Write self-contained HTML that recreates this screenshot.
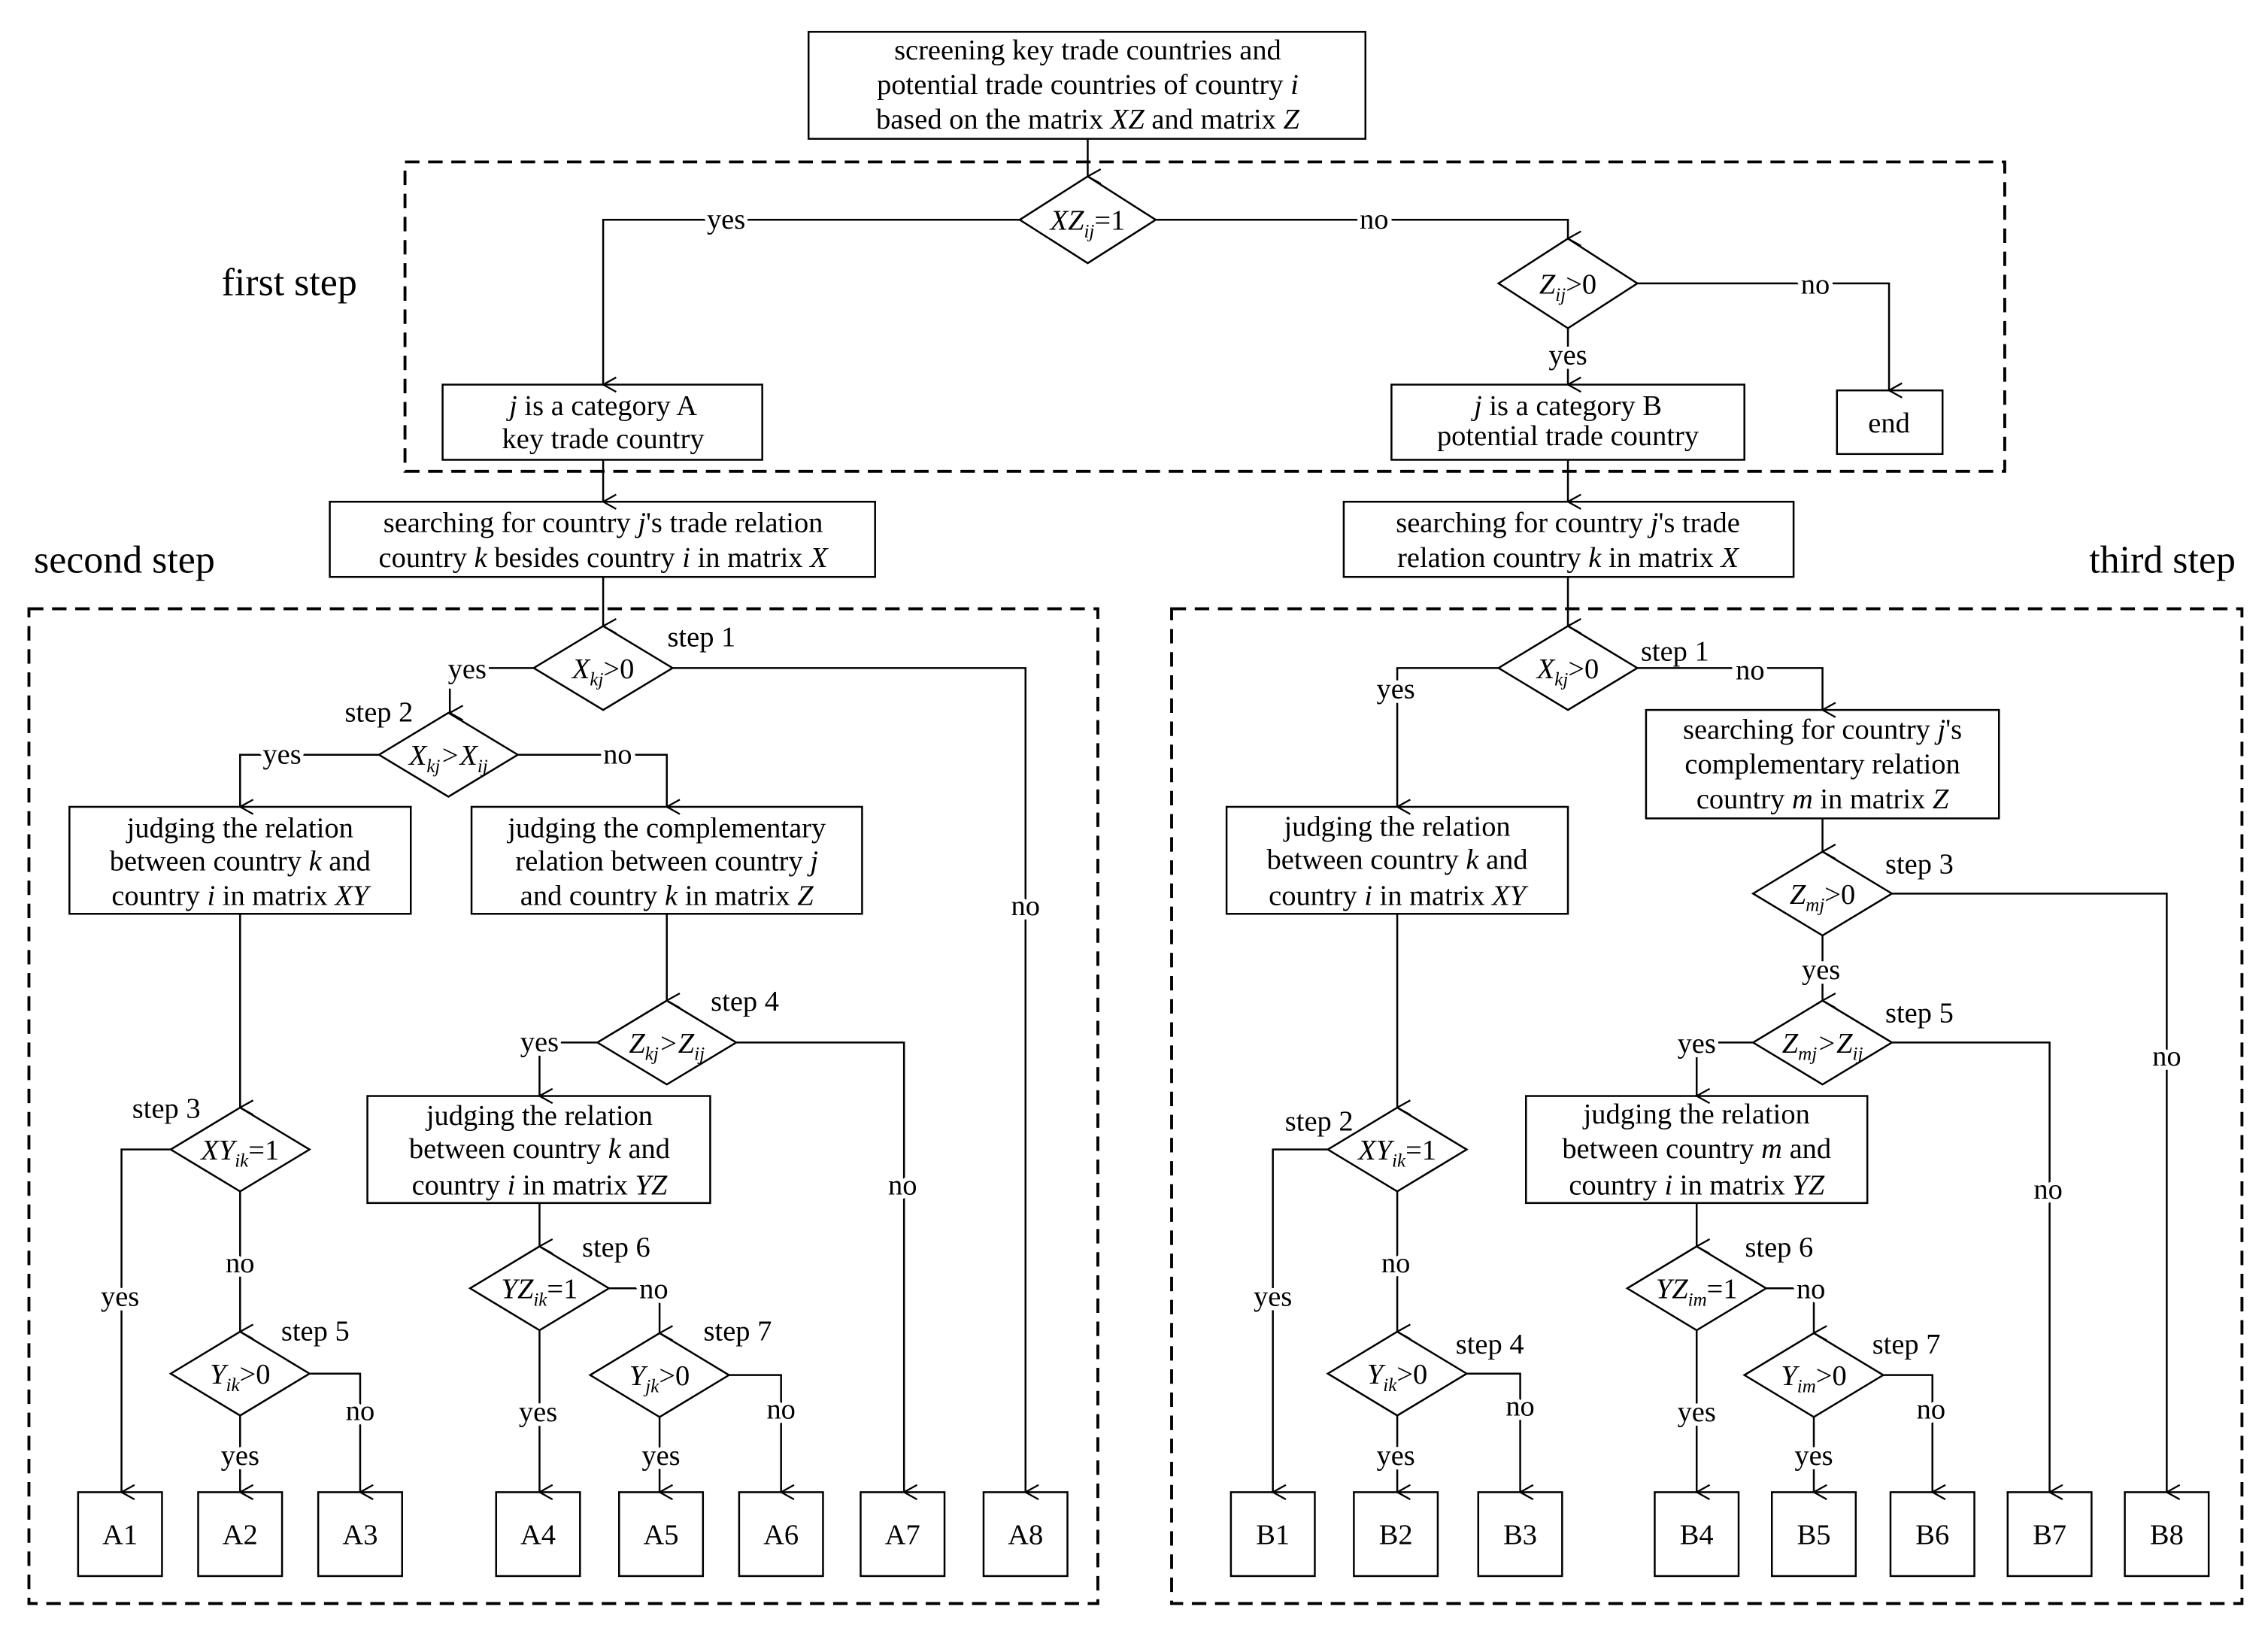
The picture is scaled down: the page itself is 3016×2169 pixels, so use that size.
<!DOCTYPE html>
<html><head><meta charset="utf-8">
<style>
html,body{margin:0;padding:0;background:#fff;}
svg{display:block;}
svg text{font-family:"Liberation Serif","DejaVu Serif",serif !important;font-size:20px;fill:#000;}
.l{paint-order:stroke;stroke:#fff;stroke-width:6px;stroke-linejoin:round;}
svg text.big{font-size:27px;}
svg .s{font-size:13px;font-style:italic;}
</style></head>
<body>
<svg width="3016" height="2169" viewBox="0 0 1568 1128" preserveAspectRatio="none" xmlns="http://www.w3.org/2000/svg" font-family="Liberation Serif, serif">
<defs>
<marker id="a" markerWidth="12" markerHeight="12" refX="6" refY="11" orient="auto" markerUnits="userSpaceOnUse" viewBox="0 0 12 12">
<path d="M1,2 L6,11 L11,2" fill="none" stroke="#000" stroke-width="1.2"/>
</marker>
</defs>
<g fill="none" stroke="#000" stroke-width="1.3">
<rect x="280" y="112" width="1106" height="214" stroke-dasharray="10,6" stroke-width="2"/>
<rect x="20" y="421" width="739" height="688" stroke-dasharray="10,6" stroke-width="2"/>
<rect x="810" y="421" width="740" height="688" stroke-dasharray="10,6" stroke-width="2"/>
<rect x="559" y="22" width="385" height="74"/>
<rect x="306" y="266" width="221" height="52"/>
<rect x="962" y="266" width="244" height="52"/>
<rect x="1270" y="270" width="73" height="44"/>
<rect x="228" y="347" width="377" height="52"/>
<rect x="929" y="347" width="311" height="52"/>
<rect x="48" y="558" width="236" height="74"/>
<rect x="326" y="558" width="270" height="74"/>
<rect x="254" y="758" width="237" height="74"/>
<rect x="1138" y="491" width="244" height="75"/>
<rect x="848" y="558" width="236" height="74"/>
<rect x="1055" y="758" width="236" height="74"/>
<rect x="54" y="1032" width="58" height="58"/><rect x="137" y="1032" width="58" height="58"/><rect x="220" y="1032" width="58" height="58"/><rect x="343" y="1032" width="58" height="58"/><rect x="428" y="1032" width="58" height="58"/><rect x="511" y="1032" width="58" height="58"/><rect x="595" y="1032" width="58" height="58"/><rect x="680" y="1032" width="58" height="58"/>
<rect x="851" y="1032" width="58" height="58"/><rect x="936" y="1032" width="58" height="58"/><rect x="1022" y="1032" width="58" height="58"/><rect x="1144" y="1032" width="58" height="58"/><rect x="1225" y="1032" width="58" height="58"/><rect x="1307" y="1032" width="58" height="58"/><rect x="1388" y="1032" width="58" height="58"/><rect x="1469" y="1032" width="58" height="58"/>
<polygon points="752,122 799,152 752,182 705,152"/>
<polygon points="1084,165 1132,196 1084,227 1036,196"/>
<polygon points="417,433 465,462 417,491 369,462"/>
<polygon points="310,493 358,522 310,551 262,522"/>
<polygon points="166,766 214,795 166,824 118,795"/>
<polygon points="166,921 214,950 166,979 118,950"/>
<polygon points="461,692 509,721 461,750 413,721"/>
<polygon points="373,862 421,891 373,920 325,891"/>
<polygon points="456,922 504,951 456,980 408,951"/>
<polygon points="1084,433 1132,462 1084,491 1036,462"/>
<polygon points="1260,589 1308,618 1260,647 1212,618"/>
<polygon points="1260,692 1308,721 1260,750 1212,721"/>
<polygon points="966,766 1014,795 966,824 918,795"/>
<polygon points="966,921 1014,950 966,979 918,950"/>
<polygon points="1173,862 1221,891 1173,920 1125,891"/>
<polygon points="1254,922 1302,951 1254,980 1206,951"/>
<g marker-end="url(#a)">
<path d="M752,96 V122"/>
<path d="M705,152 H417 V266"/>
<path d="M799,152 H1084 V165"/>
<path d="M1132,196 H1306 V270"/>
<path d="M1084,227 V266"/>
<path d="M417,318 V347"/>
<path d="M1084,318 V347"/>
<path d="M417,399 V433"/>
<path d="M369,462 H311 V493"/>
<path d="M465,462 H709 V1032"/>
<path d="M262,522 H166 V558"/>
<path d="M358,522 H461 V558"/>
<path d="M166,632 V766"/>
<path d="M118,795 H84 V1032"/>
<path d="M166,824 V921"/>
<path d="M166,979 V1032"/>
<path d="M214,950 H249 V1032"/>
<path d="M461,632 V692"/>
<path d="M413,721 H373 V758"/>
<path d="M509,721 H625 V1032"/>
<path d="M373,832 V862"/>
<path d="M373,920 V1032"/>
<path d="M421,891 H456 V922"/>
<path d="M456,980 V1032"/>
<path d="M504,951 H540 V1032"/>
<path d="M1084,399 V433"/>
<path d="M1036,462 H966 V558"/>
<path d="M1132,462 H1260 V491"/>
<path d="M1260,566 V589"/>
<path d="M1308,618 H1498 V1032"/>
<path d="M1260,647 V692"/>
<path d="M1212,721 H1173 V758"/>
<path d="M1308,721 H1417 V1032"/>
<path d="M966,632 V766"/>
<path d="M918,795 H880 V1032"/>
<path d="M966,824 V921"/>
<path d="M966,979 V1032"/>
<path d="M1014,950 H1051 V1032"/>
<path d="M1173,832 V862"/>
<path d="M1173,920 V1032"/>
<path d="M1221,891 H1254 V922"/>
<path d="M1254,980 V1032"/>
<path d="M1302,951 H1336 V1032"/>
</g>
</g>

<g text-anchor="middle">
<text x="752" y="41">screening  key trade countries and</text>
<text x="752" y="65">potential trade countries of country <tspan font-style="italic">i</tspan></text>
<text x="752" y="89">based on the matrix <tspan font-style="italic">XZ</tspan> and matrix <tspan font-style="italic">Z</tspan></text>
<text x="200" y="204" class="big">first step</text>
<text x="86" y="396" class="big">second step</text>
<text x="1495" y="396" class="big">third step</text>
<text x="417" y="287"><tspan font-style="italic">j</tspan> is a category A</text>
<text x="417" y="310">key trade country</text>
<text x="1084" y="287"><tspan font-style="italic">j</tspan> is a category B</text>
<text x="1084" y="308">potential trade country</text>
<text x="1306" y="299">end</text>
<text x="417" y="368">searching for country <tspan font-style="italic">j</tspan>'s trade relation</text>
<text x="417" y="392">country <tspan font-style="italic">k</tspan> besides country <tspan font-style="italic">i</tspan> in matrix <tspan font-style="italic">X</tspan></text>
<text x="1084" y="368">searching for country <tspan font-style="italic">j</tspan>'s trade</text>
<text x="1084" y="392">relation country <tspan font-style="italic">k</tspan>  in matrix <tspan font-style="italic">X</tspan></text>
<text x="166" y="579">judging the relation</text>
<text x="166" y="602">between country <tspan font-style="italic">k</tspan> and</text>
<text x="166" y="626">country <tspan font-style="italic">i</tspan> in matrix <tspan font-style="italic">XY</tspan></text>
<text x="461" y="579">judging the complementary</text>
<text x="461" y="602">relation between country <tspan font-style="italic">j</tspan></text>
<text x="461" y="626">and country <tspan font-style="italic">k</tspan> in matrix <tspan font-style="italic">Z</tspan></text>
<text x="373" y="778">judging the relation</text>
<text x="373" y="801">between country <tspan font-style="italic">k</tspan> and</text>
<text x="373" y="826">country <tspan font-style="italic">i</tspan> in matrix <tspan font-style="italic">YZ</tspan></text>
<text x="1260" y="511">searching for country <tspan font-style="italic">j</tspan>'s</text>
<text x="1260" y="535">complementary relation</text>
<text x="1260" y="559">country <tspan font-style="italic">m</tspan> in matrix <tspan font-style="italic">Z</tspan></text>
<text x="966" y="578">judging the relation</text>
<text x="966" y="601">between country <tspan font-style="italic">k</tspan> and</text>
<text x="966" y="626">country <tspan font-style="italic">i</tspan> in matrix <tspan font-style="italic">XY</tspan></text>
<text x="1173" y="777">judging the relation</text>
<text x="1173" y="801">between country <tspan font-style="italic">m</tspan> and</text>
<text x="1173" y="826">country <tspan font-style="italic">i</tspan> in matrix <tspan font-style="italic">YZ</tspan></text>
<text x="752" y="159"><tspan font-style="italic">XZ</tspan><tspan class="s" dy="5">ij</tspan><tspan dy="-5">=1</tspan></text>
<text x="1084" y="203"><tspan font-style="italic">Z</tspan><tspan class="s" dy="5">ij</tspan><tspan dy="-5">&gt;0</tspan></text>
<text x="417" y="469"><tspan font-style="italic">X</tspan><tspan class="s" dy="5">kj</tspan><tspan dy="-5">&gt;0</tspan></text>
<text x="310" y="529"><tspan font-style="italic">X</tspan><tspan class="s" dy="5">kj</tspan><tspan dy="-5" font-style="italic">&gt;X</tspan><tspan class="s" dy="5">ij</tspan></text>
<text x="166" y="802"><tspan font-style="italic">XY</tspan><tspan class="s" dy="5">ik</tspan><tspan dy="-5">=1</tspan></text>
<text x="166" y="957"><tspan font-style="italic">Y</tspan><tspan class="s" dy="5">ik</tspan><tspan dy="-5">&gt;0</tspan></text>
<text x="461" y="728"><tspan font-style="italic">Z</tspan><tspan class="s" dy="5">kj</tspan><tspan dy="-5" font-style="italic">&gt;Z</tspan><tspan class="s" dy="5">ij</tspan></text>
<text x="373" y="898"><tspan font-style="italic">YZ</tspan><tspan class="s" dy="5">ik</tspan><tspan dy="-5">=1</tspan></text>
<text x="456" y="958"><tspan font-style="italic">Y</tspan><tspan class="s" dy="5">jk</tspan><tspan dy="-5">&gt;0</tspan></text>
<text x="1084" y="469"><tspan font-style="italic">X</tspan><tspan class="s" dy="5">kj</tspan><tspan dy="-5">&gt;0</tspan></text>
<text x="1260" y="625"><tspan font-style="italic">Z</tspan><tspan class="s" dy="5">mj</tspan><tspan dy="-5">&gt;0</tspan></text>
<text x="1260" y="728"><tspan font-style="italic">Z</tspan><tspan class="s" dy="5">mj</tspan><tspan dy="-5" font-style="italic">&gt;Z</tspan><tspan class="s" dy="5">ij</tspan></text>
<text x="966" y="802"><tspan font-style="italic">XY</tspan><tspan class="s" dy="5">ik</tspan><tspan dy="-5">=1</tspan></text>
<text x="966" y="957"><tspan font-style="italic">Y</tspan><tspan class="s" dy="5">ik</tspan><tspan dy="-5">&gt;0</tspan></text>
<text x="1173" y="898"><tspan font-style="italic">YZ</tspan><tspan class="s" dy="5">im</tspan><tspan dy="-5">=1</tspan></text>
<text x="1254" y="958"><tspan font-style="italic">Y</tspan><tspan class="s" dy="5">im</tspan><tspan dy="-5">&gt;0</tspan></text>
<text x="83" y="1068">A1</text><text x="166" y="1068">A2</text><text x="249" y="1068">A3</text><text x="372" y="1068">A4</text><text x="457" y="1068">A5</text><text x="540" y="1068">A6</text><text x="624" y="1068">A7</text><text x="709" y="1068">A8</text>
<text x="880" y="1068">B1</text><text x="965" y="1068">B2</text><text x="1051" y="1068">B3</text><text x="1173" y="1068">B4</text><text x="1254" y="1068">B5</text><text x="1336" y="1068">B6</text><text x="1417" y="1068">B7</text><text x="1498" y="1068">B8</text>
<text x="502" y="158" class="l">yes</text>
<text x="950" y="158" class="l">no</text>
<text x="1255" y="203" class="l">no</text>
<text x="1084" y="252" class="l">yes</text>
<text x="323" y="469" class="l">yes</text>
<text x="709" y="633" class="l">no</text>
<text x="195" y="528" class="l">yes</text>
<text x="427" y="528" class="l">no</text>
<text x="83" y="903" class="l">yes</text>
<text x="166" y="880" class="l">no</text>
<text x="166" y="1013" class="l">yes</text>
<text x="249" y="982" class="l">no</text>
<text x="373" y="727" class="l">yes</text>
<text x="624" y="826" class="l">no</text>
<text x="372" y="983" class="l">yes</text>
<text x="452" y="898" class="l">no</text>
<text x="457" y="1013" class="l">yes</text>
<text x="540" y="981" class="l">no</text>
<text x="965" y="483" class="l">yes</text>
<text x="1210" y="470" class="l">no</text>
<text x="1498" y="737" class="l">no</text>
<text x="1259" y="677" class="l">yes</text>
<text x="1173" y="728" class="l">yes</text>
<text x="1416" y="829" class="l">no</text>
<text x="880" y="903" class="l">yes</text>
<text x="965" y="880" class="l">no</text>
<text x="965" y="1013" class="l">yes</text>
<text x="1051" y="979" class="l">no</text>
<text x="1173" y="983" class="l">yes</text>
<text x="1252" y="898" class="l">no</text>
<text x="1254" y="1013" class="l">yes</text>
<text x="1335" y="981" class="l">no</text>
<text x="485" y="447">step 1</text>
<text x="262" y="499">step 2</text>
<text x="115" y="773">step 3</text>
<text x="218" y="927">step 5</text>
<text x="515" y="699">step 4</text>
<text x="426" y="869">step 6</text>
<text x="510" y="927">step 7</text>
<text x="1158" y="457">step 1</text>
<text x="1327" y="604">step 3</text>
<text x="1327" y="707">step 5</text>
<text x="912" y="782">step 2</text>
<text x="1030" y="936">step 4</text>
<text x="1230" y="869">step 6</text>
<text x="1318" y="936">step 7</text>
</g>
</svg>
</body></html>
